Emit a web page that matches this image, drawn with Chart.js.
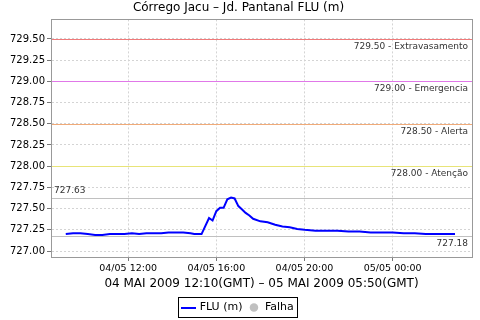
<!DOCTYPE html>
<html>
<head>
<meta charset="utf-8">
<script src="https://cdn.jsdelivr.net/npm/chart.js@4.4.0/dist/chart.umd.min.js"></script>
<style>
  html, body { margin: 0; padding: 0; background: #fff; }
</style>
</head>
<body>
<canvas id="lineChart" width="480" height="320"></canvas>
<script>
// hours since 04/05 00:00 (local), level in metres
var hours = [9.17, 9.5, 9.83, 10.17, 10.5, 10.83, 11.17, 11.5, 11.83, 12.17, 12.5, 12.83, 13.17, 13.5, 13.83,
  14.17, 14.5, 14.83, 15.0, 15.33, 15.67, 15.83, 16.0, 16.17, 16.33, 16.5, 16.67, 16.83, 17.0, 17.17, 17.33,
  17.5, 17.67, 18.0, 18.33, 18.67, 19.0, 19.33, 19.67, 20.0, 20.5, 21.0, 21.5, 22.0, 22.5, 23.0, 23.5, 24.0,
  24.5, 25.0, 25.5, 26.0, 26.5, 26.83];
var levels = [727.20, 727.21, 727.21, 727.20, 727.19, 727.19, 727.20, 727.20, 727.20, 727.21, 727.20, 727.21,
  727.21, 727.21, 727.22, 727.22, 727.22, 727.21, 727.20, 727.20, 727.39, 727.36, 727.47, 727.51, 727.51,
  727.61, 727.63, 727.62, 727.53, 727.49, 727.45, 727.42, 727.38, 727.35, 727.34, 727.31, 727.29, 727.28,
  727.26, 727.25, 727.24, 727.24, 727.24, 727.23, 727.23, 727.22, 727.22, 727.22, 727.21, 727.21, 727.20,
  727.20, 727.20, 727.20];
var xTickHours = [12, 16, 20, 24];
var xTickLabels = ['04/05 12:00', '04/05 16:00', '04/05 20:00', '05/05 00:00'];
var yTicks = [727.00, 727.25, 727.50, 727.75, 728.00, 728.25, 728.50, 728.75, 729.00, 729.25, 729.50];
var limitValues = [729.50, 729.00, 728.50, 728.00];
var limitNames = ['Extravasamento', 'Emergencia', 'Alerta', 'Atenção'];
var limitColors = ['#f07a7a', '#e078e8', '#f0aa78', '#e8e478'];
var maxLevel = 727.63;
var minLevel = 727.18;

var FONT = '"DejaVu Sans", sans-serif';

// little blue stroke for the legend
var lineIcon = document.createElement('canvas');
lineIcon.width = 15;
lineIcon.height = 2;
var ic = lineIcon.getContext('2d');
ic.fillStyle = '#0000ff';
ic.fillRect(0, 0, 15, 2);

var limitsPlugin = {
  id: 'limits',
  beforeDatasetsDraw: function(chart) {
    var ctx = chart.ctx, a = chart.chartArea, y = chart.scales.y;
    ctx.save();
    ctx.lineWidth = 1;
    ctx.font = '9px ' + FONT;
    ctx.fillStyle = '#333';
    limitValues.forEach(function(v, i) {
      var py = Math.round(y.getPixelForValue(v)) + 0.5;
      ctx.strokeStyle = limitColors[i];
      ctx.beginPath(); ctx.moveTo(a.left, py); ctx.lineTo(a.right, py); ctx.stroke();
      ctx.textAlign = 'right';
      ctx.textBaseline = 'top';
      ctx.fillText(v.toFixed(2) + ' - ' + limitNames[i], a.right - 4, py + 3);
    });
    // max and min of the period
    ctx.strokeStyle = '#c0c0c0';
    var pmax = Math.round(y.getPixelForValue(maxLevel)) + 0.5;
    var pmin = Math.round(y.getPixelForValue(minLevel)) + 0.5;
    ctx.beginPath();
    ctx.moveTo(a.left, pmax); ctx.lineTo(a.right, pmax);
    ctx.moveTo(a.left, pmin); ctx.lineTo(a.right, pmin);
    ctx.stroke();
    ctx.textAlign = 'left';
    ctx.textBaseline = 'bottom';
    ctx.fillText(maxLevel.toFixed(2), a.left + 3, pmax - 3);
    ctx.textAlign = 'right';
    ctx.textBaseline = 'top';
    ctx.fillText(minLevel.toFixed(2), a.right - 4, pmin + 3);
    ctx.restore();
  },
  afterDraw: function(chart) {
    var ctx = chart.ctx, a = chart.chartArea;
    ctx.save();
    ctx.strokeStyle = '#999';
    ctx.lineWidth = 1;
    ctx.strokeRect(Math.round(a.left) + 0.5, Math.round(a.top) + 0.5,
      Math.round(a.right - a.left), Math.round(a.bottom - a.top));
    // frame round the legend
    var boxes = chart.legend.legendHitBoxes;
    if (boxes && boxes.length) {
      var l = Math.min.apply(null, boxes.map(function(b) { return b.left; }));
      var r = Math.max.apply(null, boxes.map(function(b) { return b.left + b.width; }));
      var t = boxes[0].top, h = boxes[0].height;
      ctx.strokeStyle = '#000';
      ctx.strokeRect(Math.round(l - 5) + 0.5, Math.round(t - 5) + 0.5, Math.round(r - l + 8), Math.round(h + 9));
    }
    ctx.restore();
  }
};

function createChart() {
  var lineChart = document.getElementById('lineChart');
  new Chart(lineChart, {
    type: 'line',
    data: {
      datasets: [
        {
          label: 'FLU (m)',
          data: hours.map(function(h, i) { return { x: h, y: levels[i] }; }),
          borderColor: '#0000ff',
          backgroundColor: '#0000ff',
          borderWidth: 2,
          pointRadius: 0,
          pointStyle: lineIcon,
          fill: false,
          tension: 0
        },
        {
          label: 'Falha',
          data: [],
          borderColor: '#c0c0c0',
          backgroundColor: '#c0c0c0',
          borderWidth: 0,
          pointStyle: 'circle'
        }
      ]
    },
    options: {
      responsive: false,
      animation: false,
      layout: { padding: { left: 5, right: 8, top: 0, bottom: -3 } },
      scales: {
        x: {
          type: 'linear',
          min: 8.5,
          max: 27.6,
          afterBuildTicks: function(scale) {
            scale.ticks = xTickHours.map(function(v) { return { value: v }; });
          },
          afterFit: function(scale) { scale.height = 39; },
          ticks: {
            autoSkip: false,
            maxRotation: 0,
            padding: 2,
            color: '#000',
            font: { family: FONT, size: 9.5 },
            callback: function(val) {
              var i = xTickHours.indexOf(val);
              return i >= 0 ? xTickLabels[i] : '';
            }
          },
          title: {
            display: true,
            text: '04 MAI 2009 12:10(GMT) – 05 MAI 2009 05:50(GMT)',
            color: '#000',
            font: { family: FONT, size: 12 },
            padding: { top: 0, bottom: 5 }
          },
          grid: { color: '#d4d4d4', tickLength: 4, tickColor: '#777', tickBorderDash: [], tickBorderDashOffset: 0 },
          border: { color: '#777', dash: [2, 2] }
        },
        y: {
          min: 726.93,
          max: 729.73,
          afterBuildTicks: function(scale) {
            scale.ticks = yTicks.map(function(v) { return { value: v }; });
          },
          afterFit: function(scale) { scale.width = 46; },
          ticks: {
            padding: 2,
            color: '#000',
            font: { family: FONT, size: 10 },
            callback: function(val) { return val.toFixed(2); }
          },
          grid: { color: '#d4d4d4', tickLength: 4, tickColor: '#777', tickBorderDash: [], tickBorderDashOffset: 0 },
          border: { color: '#777', dash: [2, 2] }
        }
      },
      plugins: {
        title: {
          display: true,
          text: 'Córrego Jacu – Jd. Pantanal FLU (m)',
          color: '#000',
          font: { family: FONT, size: 12, weight: 'normal' },
          padding: { top: 1, bottom: 4 }
        },
        legend: {
          position: 'bottom',
          labels: {
            usePointStyle: true,
            boxHeight: 6,
            boxWidth: 14,
            padding: 6,
            color: '#000',
            font: { family: FONT, size: 11 }
          }
        },
        tooltip: { enabled: false }
      }
    },
    plugins: [limitsPlugin]
  });
}

window.onload = function() {
  createChart();
};
</script>
</body>
</html>
